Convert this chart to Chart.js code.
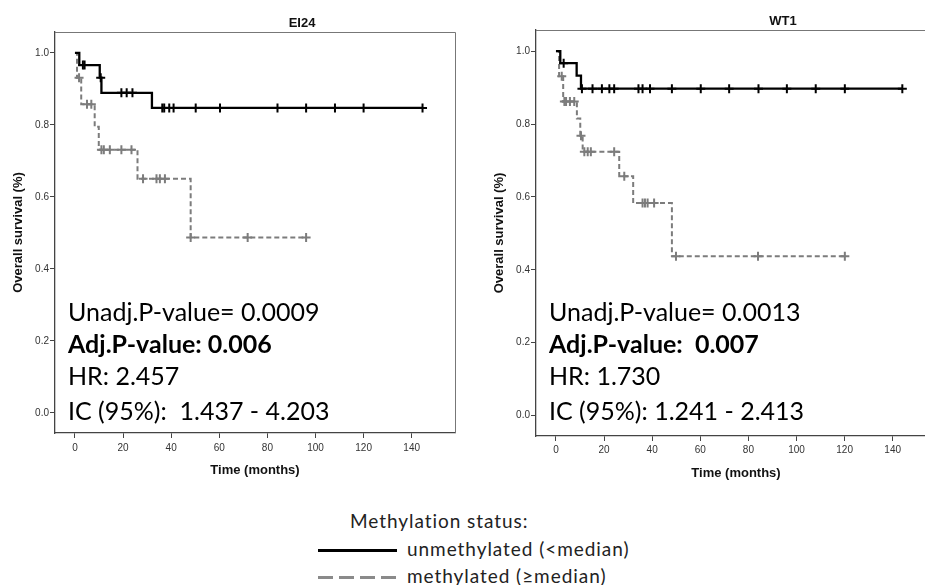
<!DOCTYPE html>
<html>
<head>
<meta charset="utf-8">
<script src="https://cdn.jsdelivr.net/npm/chart.js@4"></script>
<style>
  html, body { margin: 0; padding: 0; background: #fff; width: 925px; height: 585px; overflow: hidden; position: relative; }
  canvas { position: absolute; top: 0; }
  #c1 { left: 0; }
  #c2 { left: 465px; }
  .lg { position: absolute; font-family: Lato, "Open Sans", sans-serif; font-size: 19px; color: #222; line-height: 22px; white-space: nowrap; letter-spacing: 0.95px; }
  .sw { position: absolute; height: 3px; }
</style>
</head>
<body>
<canvas id="c1" width="465" height="480"></canvas>
<canvas id="c2" width="480" height="480"></canvas>

<div class="lg" id="lgTitle" style="left:350px; top:510px;"></div>
<div class="sw" style="left:318px; top:549px; width:79px; background:#000;"></div>
<div class="lg" id="lgUn" style="left:407px; top:538px;"></div>
<div class="sw" style="left:318px; top:576px; width:79px; background:repeating-linear-gradient(90deg,#8a8a8a 0 15px,transparent 15px 21px);"></div>
<div class="lg" id="lgMe" style="left:407px; top:565px;"></div>

<script>
// axis ticks
const xTicks = [0, 20, 40, 60, 80, 100, 120, 140];
const yTicks = [0, 0.2, 0.4, 0.6, 0.8, 1.0];

const legendTitle = 'Methylation status:';
const seriesNames = ['unmethylated (<median)', 'methylated (\u2265median)'];

// ---- EI24 ----
const ei24UnTime = [0, 1.8, 10.3, 11, 32, 144.5];
const ei24UnSurv = [1, 0.966, 0.931, 0.889, 0.847, 0.847];
const ei24UnCensTime = [3.3, 4, 10.7, 19.3, 21.5, 23.9, 36.3, 37.1, 39.2, 41, 50.2, 60.3, 84.2, 96.1, 108.1, 120, 144.5];
const ei24UnCensSurv = [0.966, 0.966, 0.931, 0.889, 0.889, 0.889, 0.847, 0.847, 0.847, 0.847, 0.847, 0.847, 0.847, 0.847, 0.847, 0.847, 0.847];

const ei24MeTime = [0, 0.85, 2.6, 8.2, 9.9, 26, 48.1, 96.1];
const ei24MeSurv = [1, 0.931, 0.857, 0.795, 0.731, 0.650, 0.487, 0.487];
const ei24MeCensTime = [1.7, 5.0, 6.8, 11, 12, 14.5, 19.3, 23.5, 28.3, 33.9, 35.3, 37.4, 48.1, 71.8, 96.1];
const ei24MeCensSurv = [0.931, 0.857, 0.857, 0.731, 0.731, 0.731, 0.731, 0.731, 0.650, 0.650, 0.650, 0.650, 0.487, 0.487, 0.487];

const ei24Stats = ['Unadj.P-value= 0.0009', 'Adj.P-value: 0.006', 'HR: 2.457', 'IC (95%):  1.437 - 4.203'];

// ---- WT1 ----
const wt1UnTime = [0, 1.8, 8.6, 10.4, 144];
const wt1UnSurv = [1, 0.967, 0.933, 0.897, 0.897];
const wt1UnCensTime = [3.2, 10.8, 15.2, 19.1, 22.2, 24.2, 34.3, 36, 39.1, 48.2, 60.2, 72, 84.2, 96, 108, 120.1, 144];
const wt1UnCensSurv = [0.967, 0.897, 0.897, 0.897, 0.897, 0.897, 0.897, 0.897, 0.897, 0.897, 0.897, 0.897, 0.897, 0.897, 0.897, 0.897, 0.897];

const wt1MeTime = [0, 1.3, 3.0, 8.7, 10.1, 11.1, 26.3, 32.1, 48.2, 120.1];
const wt1MeSurv = [1, 0.931, 0.862, 0.815, 0.768, 0.724, 0.657, 0.583, 0.437, 0.437];
const wt1MeCensTime = [2.4, 3.5, 4.2, 5.8, 7.6, 10.4, 11.8, 13.2, 14.5, 24.2, 28.4, 36, 37, 38.1, 40.8, 49.9, 84, 120.1];
const wt1MeCensSurv = [0.931, 0.862, 0.862, 0.862, 0.862, 0.768, 0.724, 0.724, 0.724, 0.724, 0.657, 0.583, 0.583, 0.583, 0.583, 0.437, 0.437, 0.437];

const wt1Stats = ['Unadj.P-value= 0.0013', 'Adj.P-value:  0.007', 'HR: 1.730', 'IC (95%): 1.241 - 2.413'];

document.getElementById('lgTitle').textContent = legendTitle;
document.getElementById('lgUn').textContent = seriesNames[0];
document.getElementById('lgMe').textContent = seriesNames[1];

const pts = (xs, ys) => xs.map((x, i) => ({ x: x, y: ys[i] }));

const GRAY = '#7c7c7c';

function kmChart(id, title, stats, d, lay) {
  const textPlugin = {
    id: 'kmText',
    afterDraw(chart) {
      const c = chart.ctx, a = chart.chartArea;
      c.save();
      // frame
      c.strokeStyle = '#777';
      c.lineWidth = 1;
      c.beginPath();
      c.moveTo(a.left, a.top + 0.5);
      c.lineTo(a.right + 0.5, a.top + 0.5);
      c.lineTo(a.right + 0.5, a.bottom);
      c.stroke();
      // title
      c.fillStyle = '#111';
      c.textAlign = 'center';
      c.textBaseline = 'middle';
      c.font = 'bold 13px "Liberation Sans", Arial, sans-serif';
      c.fillText(title, a.left + 247, a.top - 9);
      // axis titles
      c.font = 'bold 13px "Liberation Sans", Arial, sans-serif';
      c.fillText('Time (months)', (a.left + a.left + 400) / 2, a.bottom + 37);
      c.save();
      c.translate(a.left - 37, (a.top + a.bottom) / 2);
      c.rotate(-Math.PI / 2);
      c.fillText('Overall survival (%)', 0, 0);
      c.restore();
      // stats
      c.textAlign = 'left';
      c.fillStyle = '#000';
      const ys = [281, 313, 345, 380];
      stats.forEach((s, i) => {
        c.font = (i === 1 ? 'bold ' : '') + '25px Lato, "Open Sans", sans-serif';
        c.fillText(s, a.left + 13, a.top + ys[i] + lay.dy);
      });
      c.restore();
    }
  };

  return new Chart(document.getElementById(id), {
    type: 'line',
    data: {
      datasets: [
        { data: pts(d.unT, d.unS), borderColor: '#000', borderWidth: 2.3, stepped: true, pointRadius: 0, fill: false },
        { data: pts(d.meT, d.meS), borderColor: GRAY, borderWidth: 2, borderDash: [5, 3], stepped: true, pointRadius: 0, fill: false },
        { data: pts(d.unCT, d.unCS), showLine: false, pointStyle: 'cross', pointRadius: 4.5, pointBorderWidth: 2, pointBorderColor: '#000', borderColor: '#000' },
        { data: pts(d.meCT, d.meCS), showLine: false, pointStyle: 'cross', pointRadius: 4.5, pointBorderWidth: 2, pointBorderColor: GRAY, borderColor: GRAY }
      ]
    },
    options: {
      responsive: false,
      animation: false,
      devicePixelRatio: 1,
      layout: { padding: { left: 0, right: lay.right, top: lay.top, bottom: 0 } },
      plugins: { legend: { display: false }, tooltip: { enabled: false } },
      scales: {
        x: {
          type: 'linear',
          min: -8.3, max: 158,
          afterBuildTicks: s => { s.ticks = xTicks.map(v => ({ value: v })); },
          afterFit: s => { s.height = lay.xh; },
          grid: { drawOnChartArea: false, drawTicks: true, tickLength: 5, color: '#444' },
          border: { color: '#444', width: 1.3 },
          ticks: { color: '#333', font: { family: '"Liberation Sans", Arial, sans-serif', size: 10 }, padding: lay.xpad, maxRotation: 0 }
        },
        y: {
          min: -0.056, max: 1.058,
          afterBuildTicks: s => { s.ticks = yTicks.map(v => ({ value: v })); },
          afterFit: s => { s.width = lay.yw; },
          grid: { drawOnChartArea: false, drawTicks: true, tickLength: 5, color: '#444' },
          border: { color: '#444', width: 1.3 },
          ticks: { color: '#333', font: { family: '"Liberation Sans", Arial, sans-serif', size: 10 }, padding: 1, callback: v => v.toFixed(1) }
        }
      }
    },
    plugins: [textPlugin]
  });
}

kmChart('c1', 'EI24', ei24Stats,
  { unT: ei24UnTime, unS: ei24UnSurv, meT: ei24MeTime, meS: ei24MeSurv,
    unCT: ei24UnCensTime, unCS: ei24UnCensSurv, meCT: ei24MeCensTime, meCS: ei24MeCensSurv },
  { right: 10, top: 32, xh: 47, yw: 55, xpad: 4, dy: 0 });

kmChart('c2', 'WT1', wt1Stats,
  { unT: wt1UnTime, unS: wt1UnSurv, meT: wt1MeTime, meS: wt1MeSurv,
    unCT: wt1UnCensTime, unCS: wt1UnCensSurv, meCT: wt1MeCensTime, meCS: wt1MeCensSurv },
  { right: 9, top: 30, xh: 44, yw: 71, xpad: 3, dy: 2 });
</script>
</body>
</html>
